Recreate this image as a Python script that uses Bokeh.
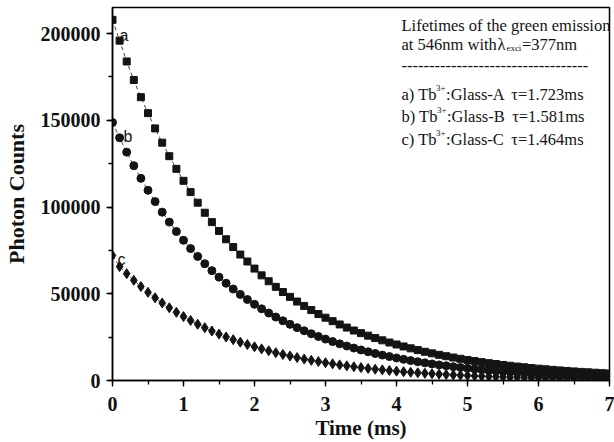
from bokeh.plotting import figure
from bokeh.models import Range1d, SingleIntervalTicker, BasicTickFormatter, Label
from bokeh.embed import file_html
from bokeh.resources import INLINE

# ---------------- data ----------------
time_ms = [0.0, 0.1, 0.2, 0.3, 0.4, 0.5, 0.6, 0.7, 0.8, 0.9,
           1.0, 1.1, 1.2, 1.3, 1.4, 1.5, 1.6, 1.7, 1.8, 1.9,
           2.0, 2.1, 2.2, 2.3, 2.4, 2.5, 2.6, 2.7, 2.8, 2.9,
           3.0, 3.1, 3.2, 3.3, 3.4, 3.5, 3.6, 3.7, 3.8, 3.9,
           4.0, 4.1, 4.2, 4.3, 4.4, 4.5, 4.6, 4.7, 4.8, 4.9,
           5.0, 5.1, 5.2, 5.3, 5.4, 5.5, 5.6, 5.7, 5.8, 5.9,
           6.0, 6.1, 6.2, 6.3, 6.4, 6.5, 6.6, 6.7, 6.8, 6.9,
           7.0]

glass_a = [207900, 195900, 183900, 173200, 163300, 154100, 145300, 137100, 129300, 122000,
           115100, 108600, 102500, 96700, 91300, 86200, 81400, 76900, 72600, 68600,
           64500, 60600, 57200, 54000, 51000, 48200, 45500, 43000, 40600, 38300,
           36200, 34200, 32300, 30500, 28800, 27300, 25850, 24450, 23150, 21900,
           20760, 19620, 18540, 17520, 16560, 15650, 14790, 13990, 13230, 12510,
           11830, 11190, 10590, 10010, 9480, 8970, 8490, 8040, 7620, 7210,
           6830, 6480, 6140, 5820, 5520, 5240, 4970, 4720, 4480, 4250,
           4040]

glass_b = [148700, 139900, 131630, 123840, 116510, 109620, 103140, 97040, 91300, 85890,
           80810, 76030, 71530, 67300, 63320, 59580, 56050, 52740, 49620, 46680,
           43920, 41320, 38880, 36580, 34410, 32380, 30460, 28660, 26960, 25370,
           23870, 22460, 21130, 19880, 18700, 17600, 16560, 15580, 14650, 13790,
           12970, 12200, 11480, 10800, 10160, 9560, 9000, 8470, 7960, 7490,
           7050, 6630, 6240, 5870, 5520, 5200, 4890, 4600, 4330, 4070,
           3830, 3600, 3390, 3190, 3000, 2820, 2660, 2500, 2350, 2210,
           2080]

glass_c = [72100, 65650, 61580, 57750, 54170, 50810, 47650, 44690, 41920, 39310,
           36870, 34590, 32440, 30420, 28530, 26760, 25100, 23540, 22080, 20710,
           19420, 18220, 17090, 16030, 15030, 14100, 13220, 12400, 11630, 10910,
           10230, 9600, 9000, 8440, 7920, 7430, 6970, 6530, 6130, 5750,
           5390, 5060, 4740, 4450, 4170, 3910, 3670, 3440, 3230, 3030,
           2840, 2660, 2500, 2340, 2200, 2060, 1930, 1810, 1700, 1600,
           1500, 1400, 1320, 1230, 1160, 1090, 1020, 960, 900, 840,
           790]

curve_labels = ["a", "b", "c"]
samples = ["Glass-A", "Glass-B", "Glass-C"]
lifetimes = ["1.723", "1.581", "1.464"]

x_title = "Time (ms)"
y_title = "Photon Counts"

# ---------------- figure ----------------
W, H = 614, 442
BL, BR, BT, BB = 112, 5, 7, 59

p = figure(width=W, height=H, output_backend="svg", toolbar_location=None,
           x_range=Range1d(0, 7), y_range=Range1d(0, 215000),
           min_border_left=BL, min_border_right=BR,
           min_border_top=BT, min_border_bottom=BB)

p.background_fill_color = "white"
p.border_fill_color = "white"
p.outline_line_color = "black"
p.outline_line_width = 1.5
p.xgrid.visible = False
p.ygrid.visible = False

p.xaxis.ticker = SingleIntervalTicker(interval=1, num_minor_ticks=2)
p.yaxis.ticker = SingleIntervalTicker(interval=50000, num_minor_ticks=2)
p.yaxis.formatter = BasicTickFormatter(use_scientific=False)

for ax in (p.xaxis[0], p.yaxis[0]):
    ax.axis_line_color = "black"
    ax.axis_line_width = 1.5
    ax.major_tick_line_color = "black"
    ax.major_tick_line_width = 1.3
    ax.minor_tick_line_color = "black"
    ax.minor_tick_line_width = 1.3
    ax.major_tick_in = 0
    ax.major_tick_out = 6
    ax.minor_tick_in = 0
    ax.minor_tick_out = 4
    ax.major_label_text_font = "Liberation Serif"
    ax.major_label_text_font_style = "bold"
    ax.major_label_text_font_size = "20px"
    ax.major_label_text_color = "#111111"
    ax.axis_label_text_font = "Liberation Serif"
    ax.axis_label_text_font_style = "bold"
    ax.axis_label_text_color = "#111111"

p.xaxis.axis_label = x_title
p.yaxis.axis_label = y_title
p.xaxis.axis_label_text_font_size = "21px"
p.yaxis.axis_label_text_font_size = "22px"
p.xaxis.major_label_standoff = 10
p.yaxis.major_label_standoff = 6
p.xaxis.axis_label_standoff = 2
p.yaxis.axis_label_standoff = 9

ink = "#141414"
series = [(glass_a, "square", 7), (glass_b, "circle", 8), (glass_c, "diamond", 10)]
for vals, marker, size in series:
    p.line(time_ms, vals, line_color=ink, line_width=0.8, line_dash="4 3")
    p.scatter(time_ms, vals, marker=marker, size=size,
              fill_color=ink, line_color=ink)

# curve letters next to the first point of each curve
offsets = [(7, -16), (11, -14), (5, -4)]
for lab, (vals, _, _), (dx, dy) in zip(curve_labels, series, offsets):
    p.add_layout(Label(x=time_ms[0], y=vals[0], text=lab, x_offset=dx, y_offset=dy,
                       text_font="Liberation Sans", text_font_size="16px",
                       text_color=ink, text_baseline="alphabetic"))

# ---------------- legend text block (top-right) ----------------
def sx(px):
    return px - BL

def sy(py):
    return (H - BB) - py

serif = "Liberation Serif"
FS = 16.5
K = 0.967 * FS   # rendered px per em


def put(px, py, txt, size=FS):
    p.add_layout(Label(x=sx(px), y=sy(py), x_units="screen", y_units="screen",
                       text=txt, text_font=serif, text_font_size=f"{size}px",
                       text_color=ink, text_baseline="alphabetic", text_align="left"))

X0 = 401
put(X0, 28, "Lifetimes of the green emission")
# line 2: at 546nm with λ_exci =377nm
w_at = 5.978 * K
put(X0, 47, "at 546nm with")
put(X0 + w_at + 0.5, 47, "\u03bb")
put(X0 + w_at + 9.5, 50.5, "exci", 9)
put(X0 + w_at + 9.5 + 15.5, 47, "=377nm")
put(X0, 68, "-" * 34)

rows_y = [96.5, 119, 141.5]
head_w = [2.138 * K, 2.194 * K, 2.138 * K]
for lab, smp, tau, yy, hw in zip(curve_labels, samples, lifetimes, rows_y, head_w):
    put(X0, yy, f"{lab}) Tb")
    put(X0 + hw + 0.5, yy - 6.5, "3+", 9)
    put(X0 + hw + 10.5, yy, f":{smp} \u2009\u03c4={tau}ms")

with open("out.html", "w") as f:
    f.write(file_html(p, INLINE))
